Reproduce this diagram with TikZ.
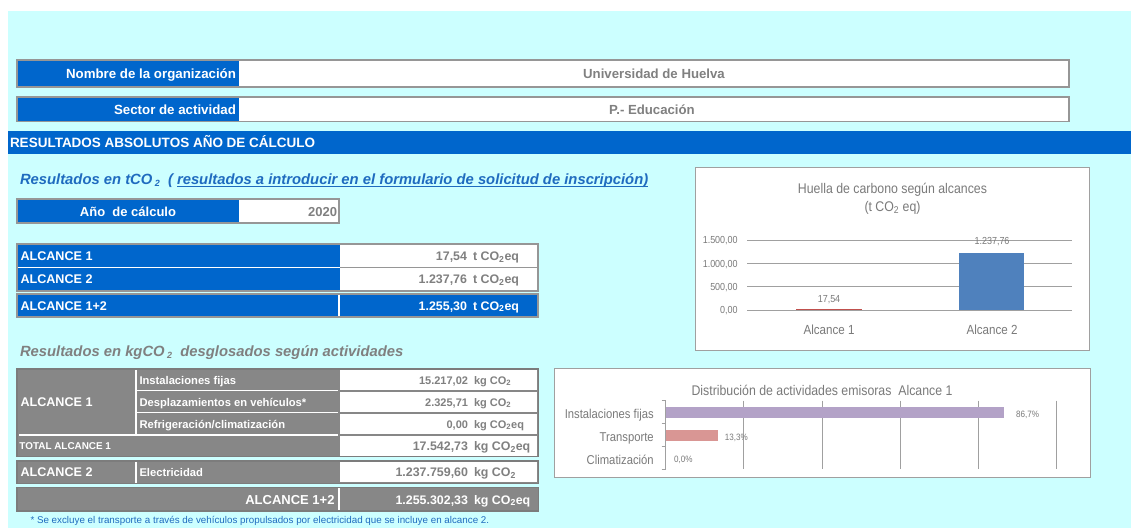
\documentclass[tikz,border=0pt]{standalone}
\usepackage{fontspec}
\setmainfont{Liberation Sans}
\newfontfamily\chartfont{Liberation Sans}[FakeStretch=0.88]
\usetikzlibrary{calc}
\newcommand{\myfs}[1]{\fontsize{#1}{#1}\selectfont}
\definecolor{bgc}{HTML}{CCFFFF}
\definecolor{blu}{HTML}{0066CC}
\definecolor{brd}{HTML}{969696}
\definecolor{tgray}{HTML}{878787}
\definecolor{tbrd}{HTML}{7C7C7C}
\definecolor{txg}{HTML}{808080}
\definecolor{ttl}{HTML}{1F6BBF}
\definecolor{chtxt}{HTML}{7A7A7A}
\definecolor{grid}{HTML}{A0A0A0}
\definecolor{barblue}{HTML}{4F81BD}
\definecolor{barred}{HTML}{C0504D}
\definecolor{barpurple}{HTML}{B3A2C7}
\definecolor{barpink}{HTML}{D99694}
\begin{document}
\begin{tikzpicture}[x=1pt,y=-1pt,
  every node/.style={inner sep=0pt,outer sep=0pt},
  hdr/.style={text=white,font=\bfseries\myfs{13.3}},
  val/.style={text=txg,font=\bfseries\myfs{13.2}},
  t1lbl/.style={text=white,font=\bfseries\myfs{12.6}},
  t1num/.style={text=txg,font=\bfseries\myfs{12.4}},
  t2lbl/.style={text=white,font=\bfseries\myfs{11.2}},
  t2num/.style={text=txg,font=\bfseries\myfs{11}},
  t2big/.style={text=txg,font=\bfseries\myfs{12.4}},
  ctxt/.style={text=chtxt,font=\chartfont\myfs{14}},
  axl/.style={text=chtxt,font=\chartfont\myfs{10.2}},
  catl/.style={text=chtxt,font=\chartfont\myfs{13.2}},
  cat2/.style={text=chtxt,font=\chartfont\myfs{12.8}},
  pct/.style={text=chtxt,font=\chartfont\myfs{9.2}},
  gridline/.style={grid,line width=1},
  whiteline/.style={white,line width=1.5},
  cellborder/.style={brd,line width=1.8}
]
\useasboundingbox (0,0) rectangle (1131,528);
\fill[white] (0,0) rectangle (1131,528);
\fill[bgc] (8,11) rectangle (1131,528);

% ---- Nombre / Sector ----
\fill[blu] (17,60) rectangle (239,87);
\fill[white] (239,60) rectangle (1069,87);
\draw[cellborder] (17,60) rectangle (1069,87);
\node[hdr,anchor=base east] (nombre) at (236,78.3) {Nombre de la organización};
\node[val,anchor=base] (uni) at (654,78.3) {Universidad de Huelva};

\fill[blu] (17,97) rectangle (239,121.5);
\fill[white] (239,97) rectangle (1069,121.5);
\draw[cellborder] (17,97) rectangle (1069,121.5);
\node[hdr,anchor=base east] (sector) at (236,114.1) {Sector de actividad};
\node[val,anchor=base] (edu) at (652,114.1) {P.- Educación};

% ---- band ----
\fill[blu] (8,131) rectangle (1131,154);
\node[text=white,font=\bfseries\myfs{13.5},anchor=base west] (band) at (10,147.5) {RESULTADOS ABSOLUTOS AÑO DE CÁLCULO};

% ---- title 1 ----
\node[text=ttl,font=\bfseries\itshape\myfs{14.8},anchor=base west] (ti1) at (20,184)
  {Resultados en tCO\,\raisebox{-0.35ex}{\myfs{9}2}\ \ (};
\node[text=ttl,font=\bfseries\itshape\myfs{14.8},anchor=base west] (ti2) at ([xshift=4]ti1.base east)
  {resultados a introducir en el formulario de solicitud de inscripción)};
\draw[ttl,line width=1.3] ($(ti2.base west)+(0,2.6)$) -- ($(ti2.base east)+(0,2.6)$);

% ---- Año ----
\fill[blu] (17.3,199.3) rectangle (239,223.3);
\fill[white] (239,199.3) rectangle (339.3,223.3);
\draw[cellborder] (17.3,199.3) rectangle (339.3,223.3);
\node[hdr,font=\bfseries\myfs{13},anchor=base] (anio) at (128,216) {Año\ \ de cálculo};
\node[val,font=\bfseries\myfs{13},anchor=base east] (anioval) at (337,216) {2020};

% ---- table 1 ----
\fill[blu] (17.3,244.3) rectangle (340,290.7);
\fill[white] (340,244.3) rectangle (538.3,290.7);
\draw[whiteline] (17.3,267.5) -- (340,267.5);
\draw[brd,line width=1.5] (340,267.5) -- (538.3,267.5);
\draw[cellborder] (17.3,244.3) rectangle (538.3,290.7);
\fill[blu] (17.3,294.3) rectangle (538.3,317);
\draw[whiteline] (339,294.3) -- (339,317);
\draw[cellborder] (17.3,294.3) rectangle (538.3,317);

\node[t1lbl,anchor=base west] (a1) at (20.5,260.5) {ALCANCE 1};
\node[t1lbl,anchor=base west] (a2) at (20.5,283.5) {ALCANCE 2};
\node[t1lbl,anchor=base west] (a12) at (20.5,310) {ALCANCE 1+2};
\node[t1num,anchor=base east] (a1v) at (467,260.5) {17,54};
\node[t1num,anchor=base west] (a1u) at (473,260.5) {t CO\textsubscript{2}eq};
\node[t1num,anchor=base east] (a2v) at (467,283.5) {1.237,76};
\node[t1num,anchor=base west] (a2u) at (473,283.5) {t CO\textsubscript{2}eq};
\node[t1num,text=white,anchor=base east] (a12v) at (467,310) {1.255,30};
\node[t1num,text=white,anchor=base west] (a12u) at (473,310) {t CO\textsubscript{2}eq};

% ---- title 2 ----
\node[text=txg,font=\bfseries\itshape\myfs{14.8},anchor=base west] (ti3) at (20,356)
  {Resultados en kgCO\,\raisebox{-0.35ex}{\myfs{9}2}\ \ desglosados según actividades};

% ---- table 2 ----
\fill[tgray] (17,369) rectangle (538.7,456.7);
\foreach \ya/\yb in {369/390.7,390.7/412.7,412.7/435,435/456.7}
  \fill[white] (340,\ya+1.2) rectangle (537,\yb-1.0);
\draw[whiteline] (136,370) -- (136,435);
\draw[whiteline] (136,390.7) -- (338.3,390.7);
\draw[whiteline] (136,412.7) -- (338.3,412.7);
\draw[whiteline] (19,435) -- (338.3,435);
\draw[tbrd,line width=1.5] (17,369) rectangle (538.7,456.7);

\fill[tgray] (17,461) rectangle (538.7,483.3);
\fill[white] (340,462.2) rectangle (537,482.3);
\draw[whiteline] (136,461) -- (136,483.3);
\draw[tbrd,line width=1.5] (17,461) rectangle (538.7,483.3);

\fill[tgray] (17,487.7) rectangle (538.7,511);
\draw[whiteline] (339,487.7) -- (339,511);
\draw[tbrd,line width=1.5] (17,487.7) rectangle (538.7,511);

\node[t1lbl,anchor=base west] (b1) at (20.5,406.5) {ALCANCE 1};
\node[t2lbl,anchor=base west] (b1a) at (139.5,384) {Instalaciones fijas};
\node[t2lbl,anchor=base west] (b1b) at (139.5,406) {Desplazamientos en vehículos*};
\node[t2lbl,anchor=base west] (b1c) at (139.5,428) {Refrigeración/climatización};
\node[t2lbl,font=\bfseries\myfs{9.9},anchor=base west] (b1t) at (19.5,449.5) {TOTAL ALCANCE 1};
\node[t1lbl,anchor=base west] (b2) at (20.5,476.6) {ALCANCE 2};
\node[t2lbl,anchor=base west] (b2a) at (139.5,476.2) {Electricidad};
\node[t1lbl,font=\bfseries\myfs{13},anchor=base east] (b12) at (334.5,504) {ALCANCE 1+2};

\node[t2num,anchor=base east] (v1) at (468,384) {15.217,02};
\node[t2num,anchor=base west] (u1) at (474,384) {kg CO\textsubscript{2}};
\node[t2num,anchor=base east] (v2) at (468,406) {2.325,71};
\node[t2num,anchor=base west] (u2) at (474,406) {kg CO\textsubscript{2}};
\node[t2num,anchor=base east] (v3) at (468,428) {0,00};
\node[t2num,anchor=base west] (u3) at (474,428) {kg CO\textsubscript{2}eq};
\node[t2big,anchor=base east] (v4) at (468,450.3) {17.542,73};
\node[t2big,anchor=base west] (u4) at (474,450.3) {kg CO\textsubscript{2}eq};
\node[t2big,anchor=base east] (v5) at (468,476.6) {1.237.759,60};
\node[t2big,anchor=base west] (u5) at (474,476.6) {kg CO\textsubscript{2}};
\node[t2big,text=white,anchor=base east] (v6) at (468,504) {1.255.302,33};
\node[t2big,text=white,anchor=base west] (u6) at (474,504) {kg CO\textsubscript{2}eq};

\node[text=ttl,font=\myfs{9.8},anchor=base west] (foot) at (30.5,523.5)
  {* Se excluye el transporte a través de vehículos propulsados por electricidad que se incluye en alcance 2.};

% ---- chart 1 ----
\draw[grid,fill=white,line width=1] (695.7,167) rectangle (1089.7,350.7);
\node[ctxt,anchor=base] (c1t1) at (892.5,193) {Huella de carbono según alcances};
\node[ctxt,anchor=base] (c1t2) at (892.5,211.5) {(t CO\textsubscript{2} eq)};
\foreach \k/\lab in {0/{0,00},1/{500,00},2/{1.000,00},3/{1.500,00}}{
  \draw[gridline] (747,310.3-23.33*\k) -- (1071.7,310.3-23.33*\k);
  \node[axl,anchor=base east] (ax\k) at (737.7,310.3-23.33*\k+3.6) {\lab};
}
\fill[barblue] (959,252.5) rectangle (1024,310.3);
\fill[barred] (796,309) rectangle (862,310.3);
\node[axl,anchor=base] (d1) at (829,302) {17,54};
\node[axl,anchor=base] (d2) at (992,244.6) {1.237,76};
\node[catl,anchor=base] (cA1) at (829,334.7) {Alcance 1};
\node[catl,anchor=base] (cA2) at (992,334.7) {Alcance 2};

% ---- chart 2 ----
\draw[grid,fill=white,line width=1] (554.4,368) rectangle (1090,477.8);
\node[ctxt,anchor=base] (c2t) at (822,395) {Distribución de actividades emisoras\ \ Alcance 1};
\foreach \k in {1,...,5}
  \draw[gridline] (665.6+78.2*\k,400.7) -- (665.6+78.2*\k,469);
\fill[barpurple] (665.6,406.7) rectangle (1003.7,417.8);
\fill[barpink] (665.6,429.6) rectangle (717.8,440.7);
\draw[gridline] (665.6,400.7) -- (665.6,469);
\foreach \yy in {400.7,423.7,446.3,469}
  \draw[gridline] (661.6,\yy) -- (665.6,\yy);
\node[cat2,anchor=base east] (k1) at (653.7,418.6) {Instalaciones fijas};
\node[cat2,anchor=base east] (k2) at (653.7,441.6) {Transporte};
\node[cat2,anchor=base east] (k3) at (653.7,464.6) {Climatización};
\node[pct,anchor=base west] (p1) at (1016,417.7) {86,7\%};
\node[pct,anchor=base west] (p2) at (724.8,440.3) {13,3\%};
\node[pct,anchor=base west] (p3) at (674,462.3) {0,0\%};
\end{tikzpicture}
\end{document}
